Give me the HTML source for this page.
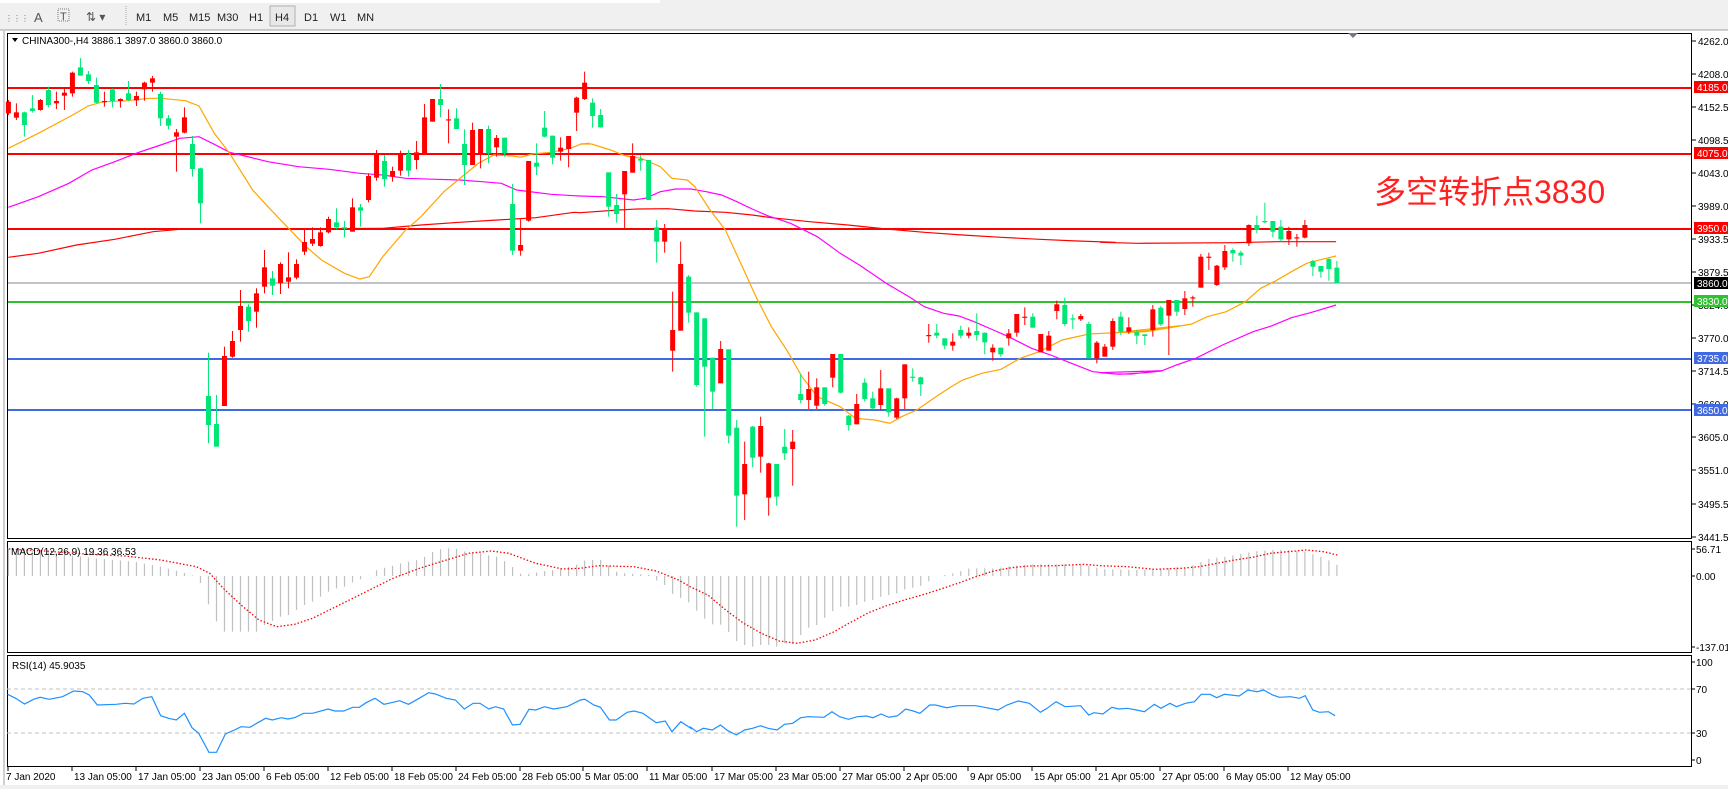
<!DOCTYPE html>
<html><head><meta charset="utf-8"><style>
html,body{margin:0;padding:0;width:1728px;height:789px;overflow:hidden;background:#fff;font-family:"Liberation Sans",sans-serif}
svg{position:absolute;left:0;top:0}
</style></head><body>
<svg id="s" width="1728" height="789" xmlns="http://www.w3.org/2000/svg" font-family="Liberation Sans, sans-serif">
<rect x="0" y="0" width="1728" height="789" fill="#fff"/>
<rect x="0" y="0" width="1728" height="30" fill="#f0f0f0"/>
<line x1="0" y1="30" x2="1728" y2="30" stroke="#a0a0a0"/>
<rect x="0" y="0" width="660" height="3" fill="#fff"/>
<g font-size="11" fill="#222">
<text x="5" y="21" font-size="8" fill="#777">⋮⋮⋮</text>
<text x="34" y="22" font-size="13" fill="#555">A</text>
<rect x="58" y="9" width="11" height="12" fill="none" stroke="#777" stroke-dasharray="1,1"/><text x="60" y="20" font-size="11" fill="#555">T</text>
<text x="86" y="21" font-size="12" fill="#555">⇅ ▾</text>
<line x1="126" y1="6" x2="126" y2="26" stroke="#aaa" stroke-dasharray="1,1"/>
<text x="136" y="21">M1</text><text x="163" y="21">M5</text><text x="189" y="21">M15</text><text x="217" y="21">M30</text><text x="249" y="21">H1</text>
<rect x="270" y="6" width="25" height="20" fill="#e8e8e8" stroke="#b0b0b0"/><text x="275" y="21">H4</text>
<text x="304" y="21">D1</text><text x="330" y="21">W1</text><text x="357" y="21">MN</text>
</g>
<line x1="4" y1="31" x2="4" y2="789" stroke="#a0a0a0"/>
<!-- panel frames -->
<rect x="7.5" y="33.5" width="1684" height="505" fill="none" stroke="#000"/>
<rect x="7.5" y="541.5" width="1684" height="111" fill="none" stroke="#000"/>
<rect x="7.5" y="655.5" width="1684" height="111" fill="none" stroke="#000"/>
<line x1="7" y1="689" x2="1691" y2="689" stroke="#c0c0c0" stroke-dasharray="4,3"/>
<line x1="7" y1="733" x2="1691" y2="733" stroke="#c0c0c0" stroke-dasharray="4,3"/>
<g id="lines"></g>
<g id="ma"></g>
<g id="candles"></g>
<g id="ind"></g>
<path d="M1348 33 L1358 33 L1353 38 Z" fill="#778"/>
<text x="1374" y="203" font-size="32" fill="#ff2020" font-family="Liberation Sans, Noto Sans CJK SC, sans-serif">多空转折点3830</text>
<g font-size="10" fill="#000">
<path d="M12 38 L18 38 L15 42 Z" fill="#000"/>
<text x="22" y="44">CHINA300-,H4  3886.1 3897.0 3860.0 3860.0</text>
<text x="11" y="555">MACD(12,26,9) 19.36 36.53</text>
<text x="12" y="669">RSI(14) 45.9035</text>
</g>
<g id="axis" font-size="10" fill="#000"></g>
<rect x="0" y="785" width="1728" height="4" fill="#f0f0f0"/>
</svg>
<script>
var S=document.getElementById('s'),NS='http://www.w3.org/2000/svg';
function el(p,t,a,txt){var e=document.createElementNS(NS,t);for(var k in a)e.setAttribute(k,a[k]);if(txt!==undefined)e.textContent=txt;document.getElementById(p).appendChild(e);return e;}
// horizontal levels
[[88,'#ff0000',2,'4185.0'],[154,'#ff0000',2,'4075.0'],[229,'#ff0000',2,'3950.0'],[283,'#808890',1,'3860.0','#000'],[302,'#30c030',2,'3830.0'],[359,'#4169e1',2,'3735.0'],[410,'#4169e1',2,'3650.0']].forEach(function(l){
el('lines','line',{x1:8,x2:1691,y1:l[0],y2:l[0],stroke:l[1],'stroke-width':l[2]});
});
// axis ticks
var tk=[[41,'4262.0'],[74,'4208.0'],[107,'4152.5'],[140,'4098.5'],[173,'4043.0'],[206,'3989.0'],[239,'3933.5'],[272,'3879.5'],[305,'3824.0'],[338,'3770.0'],[371,'3714.5'],[404,'3660.0'],[437,'3605.0'],[470,'3551.0'],[504,'3495.5'],[537,'3441.5']];
tk.forEach(function(t){el('axis','line',{x1:1692,x2:1696,y1:t[0],y2:t[0],stroke:'#000'});el('axis','text',{x:1698,y:t[0]+4},t[1]);});
[[87,'#ff0000','4185.0'],[153,'#ff0000','4075.0'],[228,'#ff0000','3950.0'],[283,'#000','3860.0'],[301,'#30c030','3830.0'],[358,'#4169e1','3735.0'],[410,'#4169e1','3650.0']].forEach(function(b){
el('axis','rect',{x:1694,y:b[0]-6,width:34,height:12,fill:b[1]});el('axis','text',{x:1697,y:b[0]+4,fill:'#fff'},b[2]);});
[[549,'56.71'],[576,'0.00'],[647,'-137.01'],[662,'100'],[689,'70'],[733,'30'],[760,'0']].forEach(function(t){el('axis','line',{x1:1692,x2:1695,y1:t[0],y2:t[0],stroke:'#000'});el('axis','text',{x:1696,y:t[0]+4},t[1]);});
var dl=[[8,'7 Jan 2020'],[72,'13 Jan 05:00'],[136,'17 Jan 05:00'],[200,'23 Jan 05:00'],[264,'6 Feb 05:00'],[328,'12 Feb 05:00'],[392,'18 Feb 05:00'],[456,'24 Feb 05:00'],[520,'28 Feb 05:00'],[583,'5 Mar 05:00'],[647,'11 Mar 05:00'],[712,'17 Mar 05:00'],[776,'23 Mar 05:00'],[840,'27 Mar 05:00'],[904,'2 Apr 05:00'],[968,'9 Apr 05:00'],[1032,'15 Apr 05:00'],[1096,'21 Apr 05:00'],[1160,'27 Apr 05:00'],[1224,'6 May 05:00'],[1288,'12 May 05:00']];
dl.forEach(function(d){el('axis','line',{x1:d[0],x2:d[0],y1:767,y2:771,stroke:'#000'});el('axis','text',{x:d[0]+(d[0]==8?-2:2),y:780},d[1]);});
// candles: [i, red?, bt, bb, wt, wb] zoom y
var C=[[0,1,215,250,210,255],[1,1,247,263,220,270],[2,0,247,285,245,320],[3,0,235,243,195,248],[4,1,210,240,207,242],[5,0,180,225,170,232],[6,1,213,220,185,237],[7,1,188,197,175,240],[8,1,128,190,125,200],[9,0,112,137,84,137],[10,0,133,153,123,162],[11,0,165,218,143,220],[12,1,213,217,185,230],[13,0,178,213,175,232],[14,1,207,213,205,233],[15,0,190,210,153,213],[16,1,198,211,185,228],[17,1,158,178,155,212],[18,1,145,158,138,185],[19,0,192,265,185,288],[20,0,265,287,255,298],[21,1,307,320,297,425],[22,1,262,308,232,310],[23,0,342,417,318,440],[24,0,415,520,413,580],[25,0,1098,1185,968,1240],[26,0,1182,1250,1095,1250],[27,1,978,1128,950,1128],[28,1,933,980,903,983],[29,1,828,900,780,935],[30,0,830,873,823,905],[31,1,790,845,775,893],[32,1,712,770,660,790],[33,0,745,767,723,795],[34,1,702,760,697,792],[35,1,742,755,667,775],[36,1,702,743,688,748],[37,1,636,665,598,675],[38,1,627,641,592,648],[39,1,607,648,592,650],[40,1,567,607,560,610],[41,0,577,592,535,598],[42,0,592,594,573,622],[43,1,532,605,505,605],[44,0,532,542,522,590],[45,1,438,510,430,517],[46,1,372,443,360,452],[47,0,393,447,375,470],[48,1,423,440,410,455],[49,1,372,422,362,437],[50,0,372,422,360,440],[51,1,367,390,333,418],[52,1,262,372,222,372],[53,1,207,275,207,275],[54,0,207,225,162,262],[55,1,268,270,238,340],[56,0,265,297,235,297],[57,0,342,405,298,465],[58,1,300,405,278,405],[59,1,297,375,297,415],[60,0,297,370,287,400],[61,1,324,352,315,380],[62,0,323,370,323,380],[63,0,522,662,462,675],[64,1,645,662,568,677],[65,1,393,572,393,575],[66,0,398,410,340,435],[67,0,293,320,243,322],[68,0,317,383,317,403],[69,1,353,365,322,392],[70,1,318,357,318,412],[71,1,203,248,200,303],[72,1,158,207,125,210],[73,0,218,258,205,293],[74,0,255,292,237,293],[75,0,427,530,427,560],[76,0,525,552,492,578],[77,1,423,493,423,600],[78,1,378,428,340,428],[79,0,387,392,375,422],[80,0,390,510,390,510],[81,0,592,635,570,698],[82,1,597,635,582,668],[83,1,900,962,785,1025],[84,1,702,902,635,902],[85,0,740,848,735,878],[86,0,847,1065,847,1070],[87,0,865,1010,865,1220],[88,0,983,1085,983,1138],[89,1,957,1060,933,1060],[90,0,958,1217,958,1240],[91,0,1193,1397,1170,1490],[92,1,1302,1393,1235,1470],[93,0,1190,1283,1188,1312],[94,1,1188,1280,1160,1328],[95,1,1300,1403,1298,1457],[96,0,1302,1400,1302,1427],[97,0,1250,1270,1197,1290],[98,1,1235,1257,1200,1367],[99,0,1092,1110,1032,1120],[100,1,1077,1110,1025,1137],[101,1,1072,1127,1045,1137],[102,0,1072,1122,1072,1127],[103,1,972,1043,972,1072],[104,0,972,1088,972,1090],[105,0,1157,1185,1155,1202],[106,1,1122,1183,1092,1183],[107,0,1058,1107,1045,1115],[108,0,1105,1135,1085,1138],[109,1,1075,1125,1020,1140],[110,0,1075,1147,1075,1160],[111,1,1105,1163,1103,1167],[112,1,1003,1105,1003,1137],[113,0,1040,1043,1015,1055],[114,0,1042,1063,1040,1098],[115,1,915,917,882,938],[116,0,908,917,882,925],[117,0,925,947,925,958],[118,1,935,947,910,962],[119,0,900,917,887,925],[120,1,908,917,892,925],[121,0,903,915,850,932],[122,0,908,937,908,973],[123,1,953,967,943,992],[124,0,953,973,953,980],[125,1,910,925,897,947],[126,1,852,908,852,920],[127,1,860,862,832,885],[128,0,860,893,850,893],[129,1,912,967,912,967],[130,1,917,962,903,962],[131,1,823,843,812,868],[132,0,825,882,803,888],[133,0,865,868,853,897],[134,1,858,868,852,873],[135,0,882,985,875,985],[136,1,938,985,933,1000],[137,1,950,980,942,980],[138,1,873,950,865,960],[139,0,860,905,845,915],[140,1,892,905,862,912],[141,0,907,917,900,942],[142,0,913,918,913,945],[143,1,838,900,825,920],[144,0,833,883,828,888],[145,1,810,857,810,975],[146,0,810,845,810,858],[147,1,805,837,783,855],[148,1,802,805,797,830],[149,1,680,773,672,773],[150,1,680,683,668,720],[151,1,707,765,705,768],[152,1,663,712,645,720],[153,0,660,670,655,695],[154,0,668,677,662,705],[155,1,585,640,583,648],[156,0,585,600,557,610],[157,0,573,577,518,580],[158,0,573,605,573,622],[159,0,590,628,570,635],[160,1,603,628,590,645],[161,1,622,625,612,650],[162,1,585,623,570,625],[163,0,693,710,690,738],[164,0,708,725,708,743],[165,0,687,717,685,752],[166,0,713,760,693,760]];
function X(i){return 8.4+8.003*i;}
function Y(z){return 30+z/3;}
C.forEach(function(c){var x=X(c[0]),col=c[1]?'#ff0000':'#00e676';
el('candles','line',{x1:x,x2:x,y1:Y(c[4]),y2:Y(c[5]),stroke:col,'stroke-width':1});
var t=Y(c[2]),b=Y(c[3]);if(b-t<1.2)b=t+1.2;
el('candles','rect',{x:x-2.5,y:t,width:5,height:b-t,fill:col});});
function conv(ox,sx,oy,arr){return arr.map(function(p){return [ox+p[0]/sx,oy+p[1]/3];});}
function pl(g,pts,col,w,da){var d=pts.map(function(p,k){return (k?'L':'M')+p[0].toFixed(1)+' '+p[1].toFixed(1);}).join(' ');var a={d:d,fill:'none',stroke:col,'stroke-width':w};if(da)a['stroke-dasharray']=da;el(g,'path',a);}
var K=2.613;
var orange=conv(0,K,30,[[22,355],[100,310],[190,255],[230,228],[270,215],[330,212],[390,205],[420,205],[485,212],[520,228],[560,310],[600,370],[660,480],[700,530],[750,590],[800,650],[840,690],[900,730],[940,747],[965,740],[1000,680],[1060,600],[1100,560],[1160,485],[1200,447],[1250,400],[1290,375],[1340,378],[1360,382],[1390,372],[1440,367],[1490,355],[1520,342],[1540,340]]).concat(conv(580,K,30,[[0,342],[30,342],[80,360],[120,378],[160,385],[210,410],[240,445],[280,450],[300,470],[340,540],[380,600],[420,700],[460,800],[500,890],[540,960],[580,1040],[620,1100],[680,1130],[720,1165],[770,1170],[810,1180],[840,1160],[880,1140],[930,1100],[970,1070],[1000,1050],[1050,1030],[1100,1018],[1150,985],[1200,965],[1260,930],[1330,912],[1400,908],[1450,905],[1500,900],[1530,892],[1568,887]])).concat(conv(1100,K,30,[[40,908],[120,905],[240,882],[280,860],[330,845],[380,815],[420,775],[460,752],[500,725],[540,700],[580,688],[617,678]]));
var mag=conv(0,K,30,[[22,532],[100,500],[180,460],[240,420],[300,395],[360,368],[420,345],[470,325],[520,320],[560,343],[600,367],[640,378],[700,395],[780,410],[860,418],[940,430],[1000,435],[1060,445],[1140,448],[1200,450],[1260,455],[1310,460],[1350,480],[1440,493],[1500,497]]).concat(conv(580,K,30,[[0,498],[60,500],[140,510],[170,505],[210,485],[250,477],[290,477],[330,485],[370,495],[410,515],[450,537],[490,557],[550,580],[620,620],[680,670],[730,705],[800,760],[860,800],[900,830],[950,850],[990,858],[1030,875],[1080,900],[1120,920],[1180,955],[1230,975],[1280,998],[1340,1025],[1400,1032],[1440,1032],[1480,1027],[1520,1022]])).concat(conv(1100,K,30,[[0,1028],[50,1033],[120,1028],[160,1023],[200,1005],[250,985],[320,945],[400,905],[450,887],[500,863],[550,848],[617,825]]));
var r200=conv(0,K,30,[[22,682],[100,670],[200,645],[300,628],[400,605],[470,598],[600,597],[1000,595],[1100,585],[1200,577],[1300,570],[1400,563],[1500,547]]).concat(conv(580,K,30,[[0,548],[100,540],[150,537],[230,536],[300,543],[380,547],[450,555],[500,563],[600,575],[700,585],[800,597],[900,607],[1000,615],[1100,622],[1200,628],[1300,633],[1400,637]])).concat(conv(1100,K,30,[[0,637],[100,640],[350,638],[460,635],[617,635]]));
pl('ma',r200,'#ff0000',1.2);pl('ma',mag,'#ff00ff',1.2);pl('ma',orange,'#ffa500',1.2);
// MACD histogram
var hist=conv(0,2.24,535,[[20,40],[100,50],[160,62],[230,72],[300,80],[360,95],[430,120],[448,140],[466,205],[484,258],[502,290],[575,290],[593,270],[610,258],[628,245],[646,240],[664,225],[682,210],[700,200],[718,185],[736,170],[754,160],[772,155],[790,142],[808,133],[826,122],[844,105],[862,98],[880,92],[898,85],[916,80],[934,75],[952,65],[970,50],[988,42],[1006,40],[1024,42],[1042,50],[1060,52],[1078,55],[1096,62],[1114,65],[1132,80],[1150,98],[1168,118],[1186,117],[1204,112],[1222,108],[1240,105],[1258,100],[1276,95],[1294,88],[1312,75],[1348,75],[1366,95],[1384,113],[1402,115],[1456,120],[1474,140],[1492,152],[1510,182],[1528,190],[1546,205],[1564,232]]).concat(conv(690,2.24,535,[[14,233],[32,250],[50,268],[68,268],[86,290],[104,318],[122,330],[140,335],[158,330],[176,330],[194,335],[212,325],[230,328],[248,300],[266,278],[284,270],[302,248],[320,228],[338,215],[356,215],[374,210],[392,200],[410,195],[428,185],[446,180],[464,175],[482,163],[500,158],[518,152],[536,138],[554,122],[572,120],[590,115],[608,108],[626,100],[680,100],[700,98],[720,93],[740,90],[760,88],[840,88],[880,90],[900,95],[930,103],[1000,105],[1040,103],[1080,98],[1110,97],[1130,90],[1160,72],[1180,68],[1200,65],[1220,60],[1240,55],[1260,50],[1280,47],[1300,45],[1340,45],[1360,47],[1380,50],[1400,60],[1420,68],[1450,90]]));
function interp(arr,x){for(var k=1;k<arr.length;k++){if(x<=arr[k][0]){var a=arr[k-1],b=arr[k];var t=(x-a[0])/((b[0]-a[0])||1);return a[1]+t*(b[1]-a[1]);}}return arr[arr.length-1][1];}
for(var i=0;i<=166;i++){var x=X(i),y=interp(hist,x);el('ind','line',{x1:x,x2:x,y1:576,y2:y,stroke:'#c0c0c0','stroke-width':1.2});}
var sig=conv(0,2.24,535,[[20,42],[100,48],[200,58],[280,63],[360,75],[440,95],[470,115],[500,160],[540,210],[580,255],[620,275],[660,268],[700,250],[760,210],[820,170],[880,130],[940,100],[1000,75],[1050,55],[1100,48],[1140,55],[1200,85],[1260,102],[1300,100],[1340,92],[1420,95],[1470,108],[1520,135]]).concat(conv(690,2.24,535,[[0,155],[40,180],[80,225],[120,265],[160,295],[200,318],[240,325],[280,315],[320,292],[360,262],[400,233],[440,212],[480,195],[520,180],[560,163],[600,145],[640,125],[680,108],[720,98],[760,93],[820,92],[880,88],[920,92],[980,95],[1040,103],[1100,100],[1140,95],[1180,85],[1220,75],[1260,67],[1300,55],[1340,50],[1380,45],[1420,50],[1450,60]]));
pl('ind',sig,'#ff0000',1.3,'1.5,2');
var rsi=conv(0,2.24,535,[[17,478],[35,490],[55,507],[75,493],[90,487],[110,493],[140,485],[165,468],[185,470],[200,480],[218,510],[260,508],[280,505],[300,507],[320,490],[340,485],[360,542],[378,550],[395,555],[413,535],[430,578],[445,595],[468,652],[485,652],[505,597],[525,585],[540,575],[560,577],[575,565],[595,550],[610,555],[630,548],[645,552],[660,548],[680,535],[700,535],[735,522],[750,528],[770,528],[790,517],[805,517],[820,503],[840,490],[860,508],[880,502],[895,497],[915,508],[935,493],[960,473],[975,477],[1000,490],[1020,495],[1040,522],[1060,505],[1075,505],[1095,522],[1110,515],[1128,522],[1148,570],[1165,568],[1185,523],[1200,525],[1220,515],[1240,522],[1270,515],[1300,495],[1310,493],[1330,510],[1345,517],[1365,555],[1380,555],[1405,532],[1420,528],[1440,535],[1470,563],[1490,558],[1505,590],[1525,560],[1550,582]]).concat(conv(690,2.24,535,[[0,575],[15,590],[30,580],[50,585],[68,570],[85,587],[104,600],[122,585],[140,580],[158,572],[175,580],[195,585],[212,568],[230,565],[248,548],[265,545],[300,547],[318,530],[335,545],[355,553],[375,545],[395,543],[410,548],[428,537],[445,547],[465,542],[483,522],[500,528],[515,535],[537,510],[550,510],[575,518],[600,512],[640,512],[660,517],[690,525],[710,510],[735,498],[760,505],[785,532],[800,520],[820,500],[840,515],[875,512],[893,540],[905,533],[925,537],[945,517],[960,522],[980,520],[1000,525],[1018,530],[1040,508],[1055,520],[1075,505],[1090,515],[1110,505],[1130,500],[1145,478],[1165,478],[1180,488],[1197,478],[1230,483],[1250,465],[1270,470],[1285,465],[1305,480],[1320,487],[1345,485],[1365,490],[1378,482],[1395,525],[1410,532],[1430,530],[1445,542]]));
pl('ind',rsi,'#1e90ff',1.2);
</script>
</body></html>
